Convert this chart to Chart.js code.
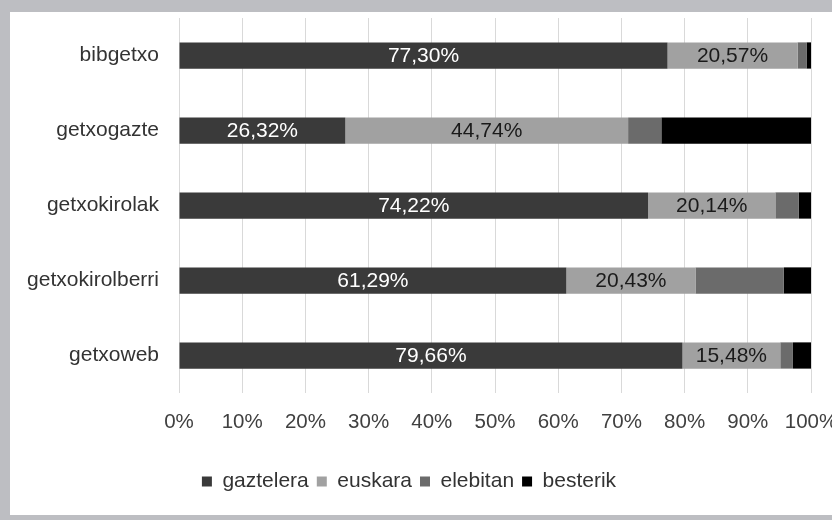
<!DOCTYPE html>
<html lang="eu">
<head>
<meta charset="UTF-8">
<title>Hizkuntzak webguneetan</title>
<script src="https://cdn.jsdelivr.net/npm/chart.js"></script>
<style>
  html, body { margin: 0; padding: 0; overflow: hidden; }
  body { background: #bdbec2; width: 832px; height: 520px; position: relative; }
  #wrap { position: absolute; left: 10px; top: 12px; width: 860px; height: 503px; background: #fff; }
</style>
</head>
<body>
<div id="wrap"><canvas id="langChart"></canvas></div>
<script>
// webguneak
var categories = ['bibgetxo', 'getxogazte', 'getxokirolak', 'getxokirolberri', 'getxoweb'];

// portzentaiak (%)
var gaztelera = [77.30, 26.32, 74.22, 61.29, 79.66];
var euskara   = [20.57, 44.74, 20.14, 20.43, 15.48];
var elebitan  = [1.42, 5.26, 3.72, 13.98, 2.00];
var besterik  = [0.71, 23.68, 1.92, 4.30, 2.86];

var xTicks = [0, 10, 20, 30, 40, 50, 60, 70, 80, 90, 100];

var FONT = 'Liberation Sans, Arial, sans-serif';

function fmt(v) {
    return v.toFixed(2).replace('.', ',') + '%';
}

// etiketak barren erdian
var barLabels = {
    id: 'barLabels',
    afterDatasetsDraw: function (chart) {
        var ctx = chart.ctx;
        ctx.save();
        ctx.font = '21px ' + FONT;
        ctx.textAlign = 'center';
        ctx.textBaseline = 'middle';
        [0, 1].forEach(function (di) {
            var ds = chart.data.datasets[di];
            chart.getDatasetMeta(di).data.forEach(function (bar, i) {
                ctx.fillStyle = di === 0 ? '#ffffff' : '#1a1a1a';
                ctx.fillText(fmt(ds.data[i]), (bar.x + bar.base) / 2, bar.y + 1);
            });
        });
        ctx.restore();
    }
};

// legenda ezkerrerago
var legendShift = {
    id: 'legendShift',
    afterLayout: function (chart) {
        var lg = chart.legend;
        lg.left = 0;
        lg.right = 798;
    }
};

var ctx = document.getElementById('langChart').getContext('2d');
var langChart = new Chart(ctx, {
    type: 'bar',
    data: {
        labels: categories,
        datasets: [
            { label: 'gaztelera', data: gaztelera, backgroundColor: '#3a3a3a' },
            { label: 'euskara', data: euskara, backgroundColor: '#a1a1a1' },
            { label: 'elebitan', data: elebitan, backgroundColor: '#6b6b6b' },
            { label: 'besterik', data: besterik, backgroundColor: '#000000' }
        ]
    },
    options: {
        indexAxis: 'y',
        responsive: true,
        maintainAspectRatio: false,
        animation: false,
        datasets: {
            bar: { categoryPercentage: 1, barPercentage: 0.35, borderWidth: 0 }
        },
        layout: { padding: { top: 6, right: 59, bottom: 13, left: 0 } },
        scales: {
            x: {
                stacked: true,
                min: 0,
                max: 100,
                afterBuildTicks: function (scale) {
                    scale.ticks = xTicks.map(function (v) { return { value: v }; });
                },
                afterFit: function (scale) { scale.height = 70; },
                grid: { color: '#d9d9d9', drawTicks: false },
                border: { display: false },
                ticks: {
                    padding: 17,
                    color: '#404040',
                    font: { family: FONT, size: 20.5 },
                    callback: function (v) { return v + '%'; }
                }
            },
            y: {
                stacked: true,
                afterFit: function (scale) {
                    scale.width = 169;
                    scale.paddingTop = 0;
                    scale.paddingBottom = 0;
                },
                grid: { display: false, drawTicks: false },
                border: { display: false },
                ticks: {
                    padding: 20,
                    color: '#333333',
                    font: { family: FONT, size: 21 }
                }
            }
        },
        plugins: {
            legend: {
                position: 'bottom',
                labels: {
                    boxWidth: 10,
                    boxHeight: 10,
                    padding: 8,
                    color: '#333333',
                    font: { family: FONT, size: 21 }
                }
            },
            tooltip: { enabled: false }
        }
    },
    plugins: [barLabels, legendShift]
});
</script>
</body>
</html>
